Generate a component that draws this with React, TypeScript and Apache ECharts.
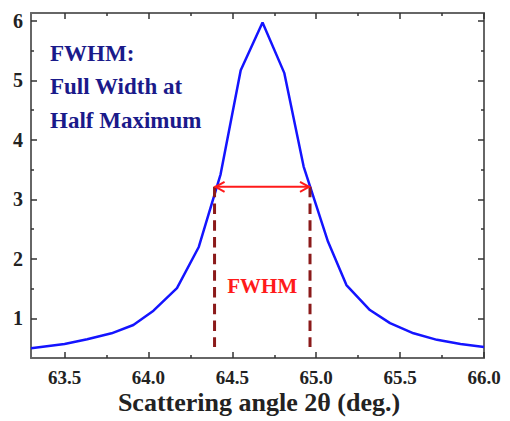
import React, { useEffect, useRef } from "react";
import * as echarts from "echarts";

// Scattering angle 2θ (deg.)
const angles = [63.3, 63.5, 63.635, 63.78, 63.91, 64.03, 64.17, 64.3, 64.43, 64.55, 64.68, 64.81, 64.925, 65.07, 65.18, 65.32, 65.44, 65.58, 65.72, 65.86, 66.0];
// Intensity
const intensity = [0.5, 0.57, 0.65, 0.75, 0.89, 1.13, 1.51, 2.2, 3.42, 5.17, 5.97, 5.12, 3.55, 2.29, 1.56, 1.14, 0.92, 0.75, 0.64, 0.57, 0.52];

const xMajor = [63.5, 64.0, 64.5, 65.0, 65.5, 66.0];
const xMinor = [63.75, 64.25, 64.75, 65.25, 65.75];
const yMajor = [1, 2, 3, 4, 5, 6];
const yMinor = [1.5, 2.5, 3.5, 4.5, 5.5];

const xMin = 63.3;
const xMax = 66.0;
const yMin = 0.335;
const yMax = 6.13;

// FWHM annotation values
const halfMax = 3.21;
const fwhmLeft = 64.394;
const fwhmRight = 64.963;
const dashBottom = 0.52;
const fwhmLabelY = 1.55;

const noteLines = ["FWHM:", "Full Width at", "Half Maximum"];

const SERIF = "'Liberation Serif', 'Times New Roman', serif";
const FRAME = "#666";
const TICK = "#333";

function xAxisDef(position: string, ticks: number[], len: number, labels: boolean, line: boolean) {
  return {
    type: "value",
    position,
    min: xMin,
    max: xMax,
    axisLine: { show: line, onZero: false, lineStyle: { color: FRAME, width: 2 } },
    axisTick: { show: true, inside: true, length: len, customValues: ticks, lineStyle: { color: TICK, width: 1.5 } },
    axisLabel: labels
      ? { show: true, customValues: ticks, formatter: (v: number) => v.toFixed(1), fontSize: 19, fontWeight: "bold", fontFamily: SERIF, color: "#222", margin: 10 }
      : { show: false },
    splitLine: { show: false },
  };
}

function yAxisDef(position: string, ticks: number[], len: number, labels: boolean, line: boolean) {
  return {
    type: "value",
    position,
    min: yMin,
    max: yMax,
    axisLine: { show: line, onZero: false, lineStyle: { color: FRAME, width: 2 } },
    axisTick: { show: true, inside: true, length: len, customValues: ticks, lineStyle: { color: TICK, width: 1.5 } },
    axisLabel: labels
      ? { show: true, customValues: ticks, formatter: (v: number) => String(v), fontSize: 20, fontWeight: "bold", fontFamily: SERIF, color: "#222", margin: 8 }
      : { show: false },
    splitLine: { show: false },
  };
}

export default function App() {
  const ref = useRef<HTMLDivElement>(null);

  useEffect(() => {
    if (!ref.current) return;
    const chart = echarts.init(ref.current, null, { renderer: "svg" });
    const option: any = {
      animation: false,
      backgroundColor: "#fff",
      grid: { left: 31, right: 26, top: 13, bottom: 63, containLabel: false },
      xAxis: [
        xAxisDef("bottom", xMajor, 6, true, true),
        xAxisDef("bottom", xMinor, 3, false, false),
        xAxisDef("top", xMajor, 6, false, true),
        xAxisDef("top", xMinor, 3, false, false),
      ],
      yAxis: [
        yAxisDef("left", yMajor, 6, true, true),
        yAxisDef("left", yMinor, 3, false, false),
        yAxisDef("right", yMajor, 6, false, true),
        yAxisDef("right", yMinor, 3, false, false),
      ],
      graphic: [
        ...noteLines.map((t, i) => ({
          type: "text",
          x: 50,
          y: 53 + i * 33.5,
          style: {
            text: t,
            fill: "#1a1a8a",
            font: `bold 23px ${SERIF}`,
            textAlign: "left",
            textVerticalAlign: "middle",
          },
        })),
        {
          type: "text",
          x: 259,
          y: 402,
          style: {
            text: "Scattering angle 2θ (deg.)",
            fill: "#222",
            font: `bold 26px ${SERIF}`,
            textAlign: "center",
            textVerticalAlign: "middle",
          },
        },
      ],
      series: [
        {
          type: "line",
          xAxisIndex: 0,
          yAxisIndex: 0,
          data: angles.map((a, i) => [a, intensity[i]]),
          showSymbol: false,
          symbol: "none",
          lineStyle: { color: "#1414ff", width: 2.5 },
          z: 3,
        },
        {
          type: "custom",
          xAxisIndex: 0,
          yAxisIndex: 0,
          clip: false,
          data: [[fwhmLeft, halfMax]],
          z: 4,
          renderItem: (_params: any, api: any) => {
            const l = api.coord([fwhmLeft, halfMax]);
            const r = api.coord([fwhmRight, halfMax]);
            const lb = api.coord([fwhmLeft, dashBottom]);
            const rb = api.coord([fwhmRight, dashBottom]);
            const lab = api.coord([(fwhmLeft + fwhmRight) / 2, fwhmLabelY]);
            const dash = { stroke: "#8b1a1a", lineWidth: 3, lineDash: [10.5, 6.2], fill: null };
            const red = { stroke: "#ff1a1a", lineWidth: 2, fill: null };
            const ah = 10, aw = 5;
            return {
              type: "group",
              children: [
                { type: "line", shape: { x1: l[0], y1: l[1], x2: lb[0], y2: lb[1] }, style: dash },
                { type: "line", shape: { x1: r[0], y1: r[1], x2: rb[0], y2: rb[1] }, style: dash },
                { type: "line", shape: { x1: l[0], y1: l[1], x2: r[0], y2: r[1] }, style: red },
                { type: "polyline", shape: { points: [[l[0] + ah, l[1] - aw], [l[0] + 1, l[1]], [l[0] + ah, l[1] + aw]] }, style: red },
                { type: "polyline", shape: { points: [[r[0] - ah, r[1] - aw], [r[0] - 1, r[1]], [r[0] - ah, r[1] + aw]] }, style: red },
                {
                  type: "text",
                  x: lab[0],
                  y: lab[1],
                  style: {
                    text: "FWHM",
                    fill: "#ff1a1a",
                    font: `bold 21px ${SERIF}`,
                    textAlign: "center",
                    textVerticalAlign: "middle",
                  },
                },
              ],
            };
          },
        },
      ],
    };
    chart.setOption(option);
    return () => chart.dispose();
  }, []);

  return <div ref={ref} style={{ width: 510, height: 421, position: "absolute", left: 0, top: 0 }} />;
}
